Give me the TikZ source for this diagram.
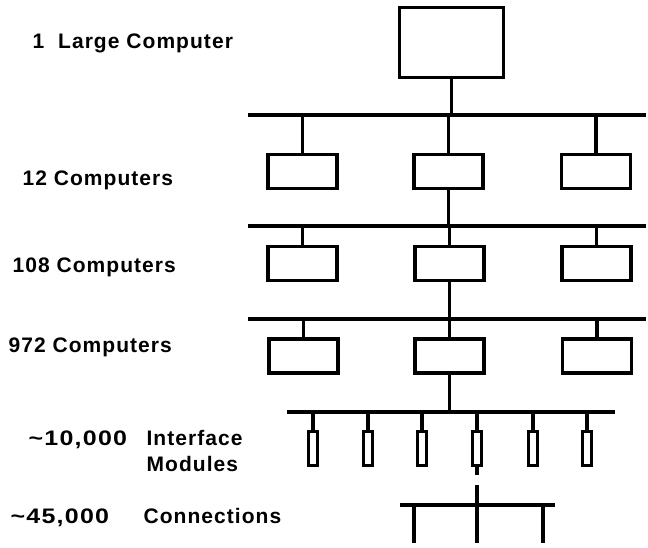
\documentclass[tikz,border=0pt]{standalone}
\usepackage{graphicx}
\usepackage{fontspec}
\setmainfont{Liberation Sans}[LetterSpace=5]
\begin{document}
\begin{tikzpicture}[x=1pt,y=-1pt, line width=3.2pt,
  box/.style={draw, rectangle, inner sep=0pt},
  lbox/.style={box, minimum width=69pt, minimum height=34pt},
  mbox/.style={box, minimum width=9pt, minimum height=34pt},
  lab/.style={anchor=base west, inner sep=0pt, font=\bfseries\fontsize{21}{27}\selectfont}]
\useasboundingbox (0,0) rectangle (648,547);

% labels
\node[lab] (t1) at (31,48) {1\hspace{7pt} Large Computer};
\node[lab] (t2) at (21,185) {12 Computers};
\node[lab] (t3) at (11,272) {108 Computers};
\node[lab] (t4) at (7,352) {972 Computers};
\node[lab] (t5) at (27,445) {\scalebox{1.19}[1]{\textasciitilde10,000}};
\node[lab] (t6) at (145,445) {Interface};
\node[lab] (t6b) at (145,471) {Modules};
\node[lab] (t7) at (9,523) {\scalebox{1.19}[1]{\textasciitilde45,000}};
\node[lab] (t8) at (142,523) {Connections};

% top computer
\node[box, minimum width=104pt, minimum height=70pt] (top) at (451.5,42.5) {};

% buses
\coordinate (b1L) at (248,115); \coordinate (b1R) at (646,115);
\coordinate (b2L) at (248,226); \coordinate (b2R) at (646,226);
\coordinate (b3L) at (248,319); \coordinate (b3R) at (646,319);
\coordinate (b4L) at (287,412); \coordinate (b4R) at (615,412);
\coordinate (b5L) at (400,505); \coordinate (b5R) at (555,505);
\draw (b1L) -- (b1R);
\draw (b2L) -- (b2R);
\draw (b3L) -- (b3R);
\draw (b4L) -- (b4R);
\draw (b5L) -- (b5R);

% level boxes
\node[lbox] (a1) at (302.5,171.5) {};
\node[lbox] (a2) at (448.5,171.5) {};
\node[lbox] (a3) at (596,171.5) {};
\node[lbox] (c1) at (302.5,263.5) {};
\node[lbox] (c2) at (449.5,263.5) {};
\node[lbox] (c3) at (596.5,263.5) {};
\node[lbox] (d1) at (303.5,356) {};
\node[lbox] (d2) at (449.5,356) {};
\node[lbox] (d3) at (597,356) {};

% modules
\foreach \i/\x in {1/313,2/368,3/422,4/477,5/533,6/587}
  \node[mbox] (m\i) at (\x,448.5) {};

% connectors
\draw (top.south) -- (top.south |- b1L);
\draw (a1.north) -- (a1.north |- b1L);
\draw (a2.north) -- (a2.north |- b1L);
\draw (a3.north) -- (a3.north |- b1L);
\draw (a2.south) -- (a2.south |- b2L);
\draw (c1.north) -- (c1.north |- b2L);
\draw (c2.north) -- (c2.north |- b2L);
\draw (c3.north) -- (c3.north |- b2L);
\draw (c2.south) -- (c2.south |- b3L);
\draw (d1.north) -- (d1.north |- b3L);
\draw (d2.north) -- (d2.north |- b3L);
\draw (d3.north) -- (d3.north |- b3L);
\draw (d2.south) -- (d2.south |- b4L);
\foreach \i in {1,...,6}
  \draw (m\i.north) -- (m\i.north |- b4L);

\coordinate (g1) at (477,475);
\coordinate (g2) at (477,485);
\coordinate (e1) at (414,543);
\coordinate (e2) at (477,543);
\coordinate (e3) at (543,543);
\draw (m4.south) -- (g1);
\draw (g2) -- (e2);
\draw (e1 |- b5L) -- (e1);
\draw (e3 |- b5L) -- (e3);
\end{tikzpicture}
\end{document}
